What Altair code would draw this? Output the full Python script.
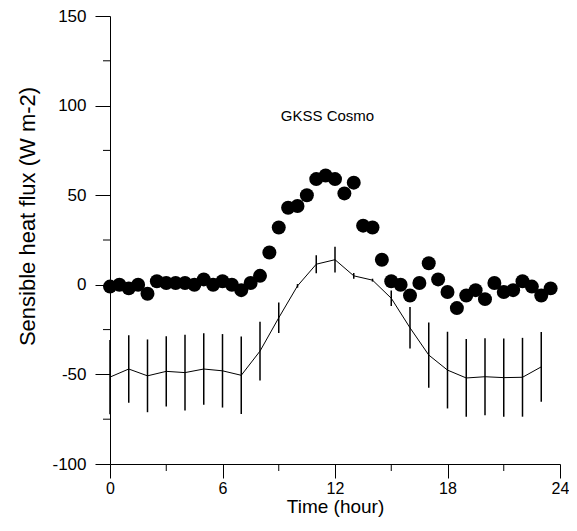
import altair as alt
import pandas as pd

# Observed points (half-hourly), GKSS
obs_time = [i * 0.5 for i in range(48)]
obs_flux = [-1, 0, -2, 0, -5, 2, 1, 1, 1, 0, 3, 0, 2, 0, -3, 1,
            5, 18, 32, 43, 44, 50, 59, 61, 59, 51, 57, 33, 32, 14, 2, 0,
            -6, 1, 12, 3, -4, -13, -6, -3, -8, 1, -4, -3, 2, -1, -6, -2]

# Model (Cosmo) hourly mean and error half-width
mod_time = list(range(24))
mod_mean = [-51.5, -47, -50.8, -48.3, -49, -47, -48, -50.5, -37, -18.4, -0.6, 11.5,
            14, 5, 2.6, -7.5, -24, -39.2, -47.6, -52, -51.3, -51.8, -51.6, -45.8]
mod_err = [20.7, 18.8, 20.3, 19.6, 21.1, 19.9, 20.5, 21.6, 16.4, 8.5, 1, 5,
           7.2, 1.6, 0.8, 4.3, 11.6, 18.2, 21.4, 21.7, 21.5, 21.8, 22, 19.5]

x_major = [0, 6, 12, 18, 24]
x_minor = [3, 9, 15, 21]
y_major = [-100, -50, 0, 50, 100, 150]
y_minor = [-75, -25, 25, 75, 125]

obs = pd.DataFrame({"t": obs_time, "v": obs_flux})
mod = pd.DataFrame({"t": mod_time, "v": mod_mean,
                    "lo": [a - b for a, b in zip(mod_mean, mod_err)],
                    "hi": [a + b for a, b in zip(mod_mean, mod_err)]})

FONT = "Liberation Sans"
xs = alt.Scale(domain=[0, 24], nice=False, zero=False)
ys = alt.Scale(domain=[-100, 150], nice=False, zero=False)
xa = alt.Axis(values=x_major, title="Time (hour)", tickSize=14, labelPadding=2,
              titlePadding=1, labelFlush=False, labelExpr="datum.value + ''",
              labelFontSize=16, titleFontSize=19)
ya = alt.Axis(values=y_major, title="Sensible heat flux (W m-2)", tickSize=15,
              labelPadding=9, labelFlush=False, labelExpr="datum.value + ''",
              labelFontSize=17, titleFontSize=22, titleBaseline="middle",
              titleX=-83, titleY=200)

points = alt.Chart(obs).mark_circle(color="black", opacity=1, size=195).encode(
    x=alt.X("t:Q", scale=xs, axis=xa),
    y=alt.Y("v:Q", scale=ys, axis=ya),
)

line = alt.Chart(mod).mark_line(color="black", strokeWidth=1).encode(
    x=alt.X("t:Q", scale=xs, axis=xa),
    y=alt.Y("v:Q", scale=ys, axis=ya),
)

bars = alt.Chart(mod).mark_rule(color="black", strokeWidth=1.5).encode(
    x=alt.X("t:Q", scale=xs, axis=xa),
    y=alt.Y("lo:Q", scale=ys, axis=ya),
    y2="hi:Q",
)

xminor = alt.Chart(pd.DataFrame({"t": x_minor})).mark_rule(color="black", strokeWidth=1).encode(
    x=alt.X("t:Q", scale=xs, axis=xa),
    y=alt.value(448), y2=alt.value(455),
)

yminor = alt.Chart(pd.DataFrame({"v": y_minor})).mark_rule(color="black", strokeWidth=1).encode(
    y=alt.Y("v:Q", scale=ys, axis=ya),
    x=alt.value(-7), x2=alt.value(0),
)

label = alt.Chart(pd.DataFrame({"s": ["GKSS Cosmo"]})).mark_text(
    font=FONT, fontSize=15, color="black", align="center", baseline="middle"
).encode(
    x=alt.datum(11.6), y=alt.datum(94), text="s:N"
)

chart = alt.layer(points, bars, line, xminor, yminor, label).properties(
    width=450, height=448,
    autosize=alt.AutoSizeParams(type="none"),
    padding={"left": 102, "top": 8, "right": 9, "bottom": 53},
    background="white",
).configure_view(stroke=None).configure_axis(
    grid=False, domainColor="black", tickColor="black", domainWidth=1, tickWidth=1,
    labelFont=FONT, titleFont=FONT,
    titleFontWeight="normal", labelColor="black", titleColor="black",
)

chart.save("out.html", embed_options={"renderer": "svg", "actions": False})
